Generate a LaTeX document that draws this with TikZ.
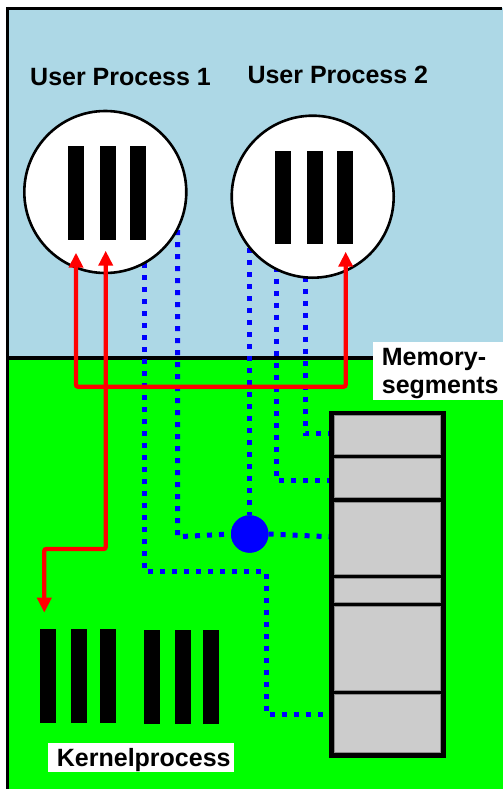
\documentclass[tikz,border=0pt]{standalone}
\usepackage{fontspec}
\setmainfont{Liberation Sans}
\usetikzlibrary{arrows.meta}
\definecolor{skyb}{RGB}{173,216,230}
\definecolor{lgreen}{RGB}{0,255,0}
\definecolor{pblue}{RGB}{0,0,255}
\definecolor{pred}{RGB}{255,0,0}
\definecolor{cellgray}{RGB}{204,204,204}
\definecolor{cellline}{RGB}{140,140,140}
\tikzset{
  lbl/.style={font=\fontsize{25}{29}\selectfont\bfseries, inner sep=0pt, anchor=base west},
  proc/.style={circle, draw=black, line width=2.6pt, fill=white, minimum size=162pt, inner sep=0pt},
  bar/.style={rectangle, fill=black, inner sep=0pt, minimum width=16pt},
  bdot/.style={draw=pblue, line width=5pt, dash pattern=on 5pt off 7pt, line cap=butt},
  rarr/.style={draw=pred, line width=4.3pt, rounded corners=2pt, line cap=round,
     arrows={Triangle[width=14pt,length=15pt]-Triangle[width=14pt,length=15pt]}},
  cell/.style={rectangle, fill=cellgray, draw=cellline, line width=0.7pt, inner sep=0pt, minimum width=106pt},
  wbox/.style={rectangle, fill=white, inner sep=0pt},
}
\begin{document}
\begin{tikzpicture}[x=1pt,y=-1pt]
\useasboundingbox (0,0) rectangle (503,789);
% backgrounds
\fill[white] (0,0) rectangle (503,789);
\fill[skyb] (7.5,8.5) rectangle (503,358);
\fill[lgreen] (7.5,358) rectangle (503,789);
\draw[line width=3.5pt] (6,8.5) -- (502,8.5);
\draw[line width=3.5pt] (7.5,7) -- (7.5,789);
\draw[line width=3.5pt] (7.5,358) -- (373,358);

% white label boxes
\node[wbox, minimum width=130.3pt, minimum height=57.6pt, anchor=north west] (membg) at (372.7,341.7) {};
\node[wbox, anchor=north west, minimum width=186.7pt, minimum height=29.4pt] (kernbg) at (47.3,742.3) {};

% blue dotted connector coordinates
\coordinate (a0) at (144.3,263.3);
\coordinate (a1) at (144.3,571.7);
\coordinate (a2) at (266,571.7);
\coordinate (a3) at (266,714);
\coordinate (a4) at (329,714);
\coordinate (b0) at (177.7,230);
\coordinate (b1) at (177.7,536.7);
\coordinate (c0) at (249.7,248.3);
\coordinate (d0) at (276.3,266.7);
\coordinate (d1) at (276.3,480);
\coordinate (d2) at (329,480);
\coordinate (e0) at (305,276.7);
\coordinate (e1) at (305,433.3);
\coordinate (e2) at (329,433.3);
\coordinate (h2) at (329,536.7);

% hub node
\node[circle, fill=pblue, minimum size=37.4pt, inner sep=0pt] (hub) at (249.7,534) {};

\draw[bdot] (a0) -- (a1) -- (a2) -- (a3) -- (a4);
\draw[bdot] (b0) -- (b1) -- (hub.west);
\draw[bdot] (hub.east) -- (h2);
\draw[bdot] (c0) -- (hub.north);
\draw[bdot] (d0) -- (d1) -- (d2);
\draw[bdot] (e0) -- (e1) -- (e2);
\node[circle, fill=pblue, minimum size=37.4pt, inner sep=0pt] at (hub) {};

% user processes
\node[proc] (up1) at (105.3,192) {};
\node[proc] (up2) at (312.7,196.7) {};
\node[bar, minimum height=94.3pt] (p1a) at (76.3,192.85) {};
\node[bar, minimum height=94.3pt] (p1b) at (107.85,192.85) {};
\node[bar, minimum height=94.3pt] (p1c) at (138,192.85) {};
\node[bar, minimum height=93.6pt] (p2a) at (283.3,197.5) {};
\node[bar, minimum height=93.6pt] (p2b) at (314.7,197.5) {};
\node[bar, minimum height=93.6pt] (p2c) at (344.7,197.5) {};

% kernel bars
\node[bar, minimum height=93.7pt] (k1) at (48,675.85) {};
\node[bar, minimum height=93.7pt] (k2) at (79.3,675.85) {};
\node[bar, minimum height=93.7pt] (k3) at (107.85,675.85) {};
\node[bar, minimum height=94pt] (k4) at (151.5,677.3) {};
\node[bar, minimum height=94pt] (k5) at (182.85,677.3) {};
\node[bar, minimum height=94pt] (k6) at (211.35,677.3) {};

% memory segments
\node[rectangle, fill=black, inner sep=0pt, minimum width=117pt, minimum height=347.5pt] (mem) at (387,584.35) {};
\node[cell, minimum height=39pt] (c1) at (387,435) {};
\node[cell, minimum height=39.6pt] (c2) at (387,478) {};
\node[cell, minimum height=72.3pt] (c3) at (387,538.35) {};
\node[cell, minimum height=24.3pt] (c4) at (387,590.35) {};
\node[cell, minimum height=84pt] (c5) at (387,648.5) {};
\node[cell, minimum height=58.6pt] (c6) at (387,723.5) {};

% red arrows
\coordinate (r1) at (76,252.7);
\coordinate (r1b) at (76,386.7);
\coordinate (r3) at (345.7,251.7);
\coordinate (r3b) at (345.7,386.7);
\coordinate (r2) at (105.7,250.7);
\coordinate (r2b) at (105.7,549);
\coordinate (r4b) at (44.3,549);
\coordinate (r4) at (44.3,612.7);
\draw[rarr] (r1) -- (r1b) -- (r3b) -- (r3);
\draw[rarr] (r2) -- (r2b) -- (r4b) -- (r4);

% labels
\node[lbl] (t1) at (30,86) {User Process 1};
\node[lbl] (t2) at (247.3,84) {User Process 2};
\node[lbl] (m1) at (381.7,365) {Memory-};
\node[lbl] (m2) at (381.7,393.3) {segments};
\node[lbl] (kt) at (56.7,766.7) {Kernelprocess};
\end{tikzpicture}
\end{document}
